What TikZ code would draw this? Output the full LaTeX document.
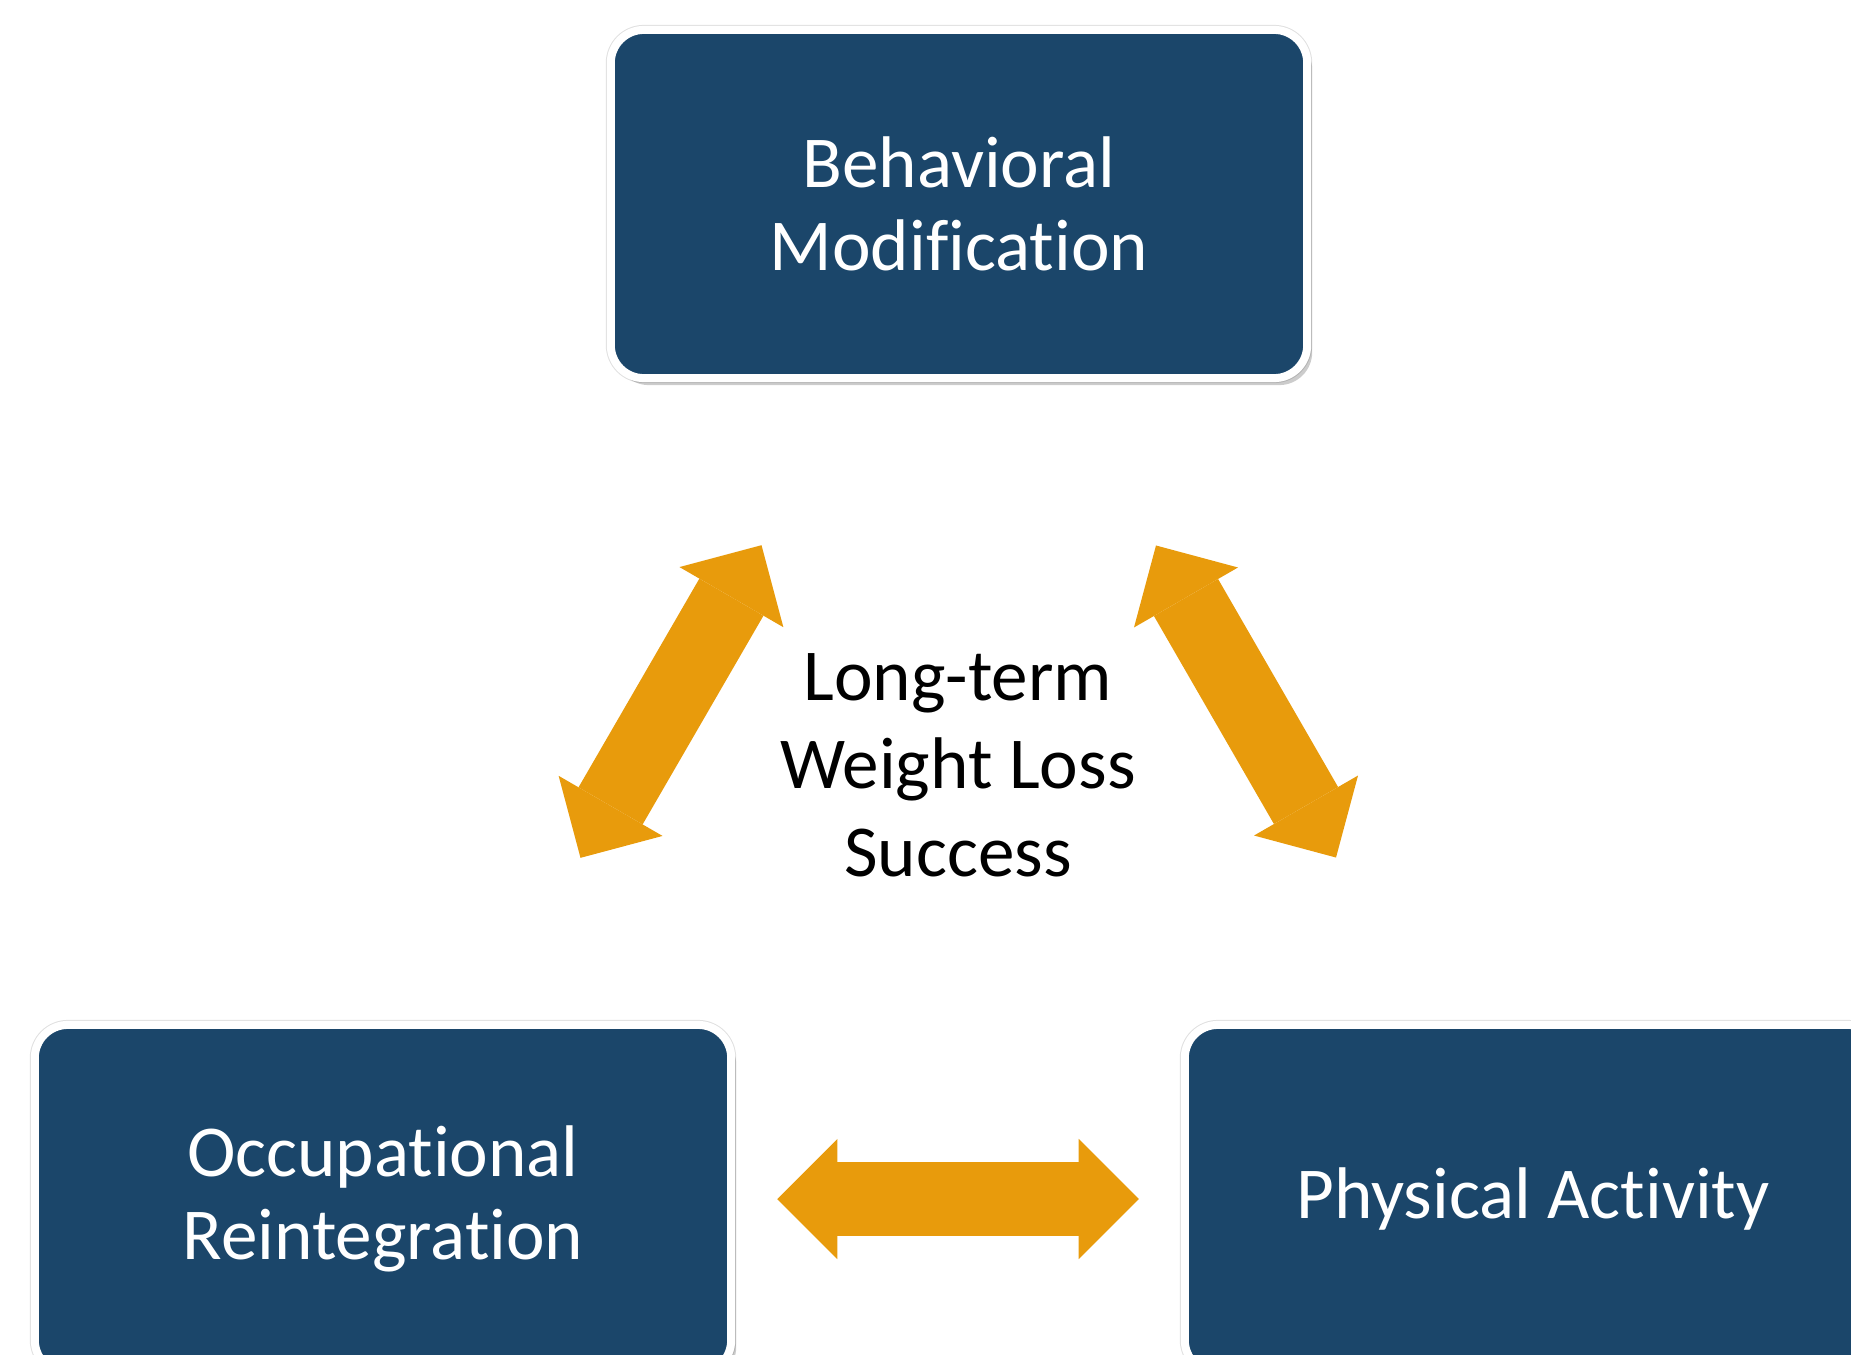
\documentclass[tikz,border=0pt]{standalone}
\usepackage{fontspec}
\setmainfont{Carlito}[Ligatures=NoCommon]
\usetikzlibrary{arrows.meta,shadows}

\definecolor{boxblue}{RGB}{27,70,106}
\definecolor{linkorange}{RGB}{232,155,12}

\begin{document}
\begin{tikzpicture}[
  x=0.01cm, y=-0.01cm,
  area/.style={draw=white, line width=0.08cm, fill=boxblue, rounded corners=0.33cm,
    minimum width=6.96cm, minimum height=3.48cm, align=center, text=white,
    font=\fontsize{20.8}{23.5}\selectfont,
    preaction={draw=black!12, line width=0.1cm},
    drop shadow={shadow xshift=0.05cm, shadow yshift=-0.07cm, opacity=0.2, fill=black}},
  link/.style={draw=linkorange, line width=0.74cm,
    {Triangle[length=0.6cm,width=1.2cm,line width=0pt]}-{Triangle[length=0.6cm,width=1.2cm,line width=0pt]},
    shorten <=3.94cm, shorten >=3.94cm},
]
\useasboundingbox (0,0) rectangle (1851,1354);
\clip (0,0) rectangle (1851,1354);

\node [area] (beh) at (959,204) {Behavioral\\Modification};
\node [area] (occ) at (383,1199) {Occupational\\Reintegration};
\node [area] (phys) at (1533,1199) {Physical Activity};

\node [align=center, font=\fontsize{20.8}{25}\selectfont] (goal) at (958,765) {Long-term\\Weight Loss\\Success};

% two-way links
\draw [link] (beh.center) -- (occ.center);
\draw [link] (beh.center) -- (phys.center);
\draw [link] (occ.center) -- (phys.center);
\end{tikzpicture}
\end{document}
